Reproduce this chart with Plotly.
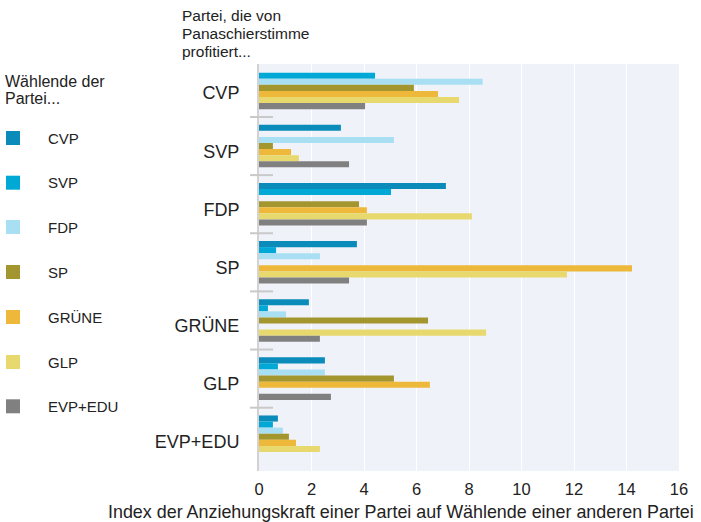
import plotly.graph_objects as go

# Recipient parties (y categories)
categories = ["CVP", "SVP", "FDP", "SP", "GRÜNE", "GLP", "EVP+EDU"]

# Voter parties (series)
voter_parties = ["CVP", "SVP", "FDP", "SP", "GRÜNE", "GLP", "EVP+EDU"]

cvp_voters = [None, 3.12, 7.12, 3.73, 1.90, 2.51, 0.72]
svp_voters = [4.42, None, 5.03, 0.65, 0.34, 0.72, 0.53]
fdp_voters = [8.52, 5.14, None, 2.32, 1.03, 2.51, 0.91]
sp_voters = [5.90, 0.53, 3.81, None, 6.44, 5.14, 1.14]
gruene_voters = [6.82, 1.22, 4.11, 14.21, None, 6.51, 1.41]
glp_voters = [7.62, 1.52, 8.11, 11.73, 8.65, None, 2.32]
evp_voters = [4.04, 3.43, 4.11, 3.43, 2.32, 2.74, None]

series_values = [cvp_voters, svp_voters, fdp_voters, sp_voters,
                 gruene_voters, glp_voters, evp_voters]

x_ticks = [0, 2, 4, 6, 8, 10, 12, 14, 16]

colors = ["#0a8bba", "#00a8d6", "#a9dff2", "#a4962e", "#eeb93b", "#e8d96f", "#808080"]

FONT = "Liberation Sans, Arial, sans-serif"
TXT = "#222222"

# plot area in pixels
L, R, T, B = 259, 22, 64, 51
W, H = 701, 522
PW, PH = W - L - R, H - T - B


def px(x):
    return (x - L) / PW


def py(y):
    return (H - B - y) / PH


fig = go.Figure()

bar_w = 0.1046
off0 = -0.455
for i, (name, vals, col) in enumerate(zip(voter_parties, series_values, colors)):
    fig.add_trace(go.Bar(
        name=name, y=categories, x=vals, orientation="h",
        marker=dict(color=col, line=dict(width=0)),
        width=bar_w, offset=off0 + i * bar_w,
        showlegend=False,
        hovertemplate=name + " → %{y}: %{x}<extra></extra>",
    ))

shapes = []
annotations = []

# separators between category groups
for k in range(len(categories) - 1):
    yv = k + 0.5 - 0.089
    shapes.append(dict(type="line", xref="paper", yref="y",
                       x0=px(250), x1=px(273), y0=yv, y1=yv,
                       line=dict(color="#c9c9c9", width=2), layer="above"))

# manual legend
leg_centers = [138, 182.7, 227, 272, 317, 362, 406.3]
for name, col, cy in zip(voter_parties, colors, leg_centers):
    shapes.append(dict(type="rect", xref="paper", yref="paper",
                       x0=px(6), x1=px(20), y0=py(cy + 7), y1=py(cy - 7),
                       fillcolor=col, line=dict(width=0)))
    annotations.append(dict(text=name, xref="paper", yref="paper",
                            x=px(46), y=py(cy), xanchor="left", yanchor="middle",
                            showarrow=False, font=dict(size=15, color=TXT, family=FONT)))

# legend title
for txt, cy in [("Wählende der", 81.5), ("Partei...", 98.5)]:
    annotations.append(dict(text=txt, xref="paper", yref="paper",
                            x=px(3), y=py(cy), xanchor="left", yanchor="middle",
                            showarrow=False, font=dict(size=16, color=TXT, family=FONT)))

# y-axis heading
for txt, cy in [("Partei, die von", 15.2), ("Panaschierstimme", 33.5), ("profitiert...", 51.8)]:
    annotations.append(dict(text=txt, xref="paper", yref="paper",
                            x=px(180), y=py(cy), xanchor="left", yanchor="middle",
                            showarrow=False, font=dict(size=15.5, color=TXT, family=FONT)))

# x-axis title
annotations.append(dict(text="Index der Anziehungskraft einer Partei auf Wählende einer anderen Partei",
                        xref="paper", yref="paper", x=px(401), y=py(512),
                        xanchor="center", yanchor="middle", showarrow=False,
                        font=dict(size=17.9, color=TXT, family=FONT)))

fig.update_layout(
    width=W, height=H,
    margin=dict(l=L, r=R, t=T, b=B, pad=0),
    paper_bgcolor="white",
    plot_bgcolor="#eff2f8",
    barmode="overlay",
    showlegend=False,
    font=dict(family=FONT, color=TXT),
    shapes=shapes,
    annotations=annotations,
    xaxis=dict(range=[0, 16], tickvals=x_ticks, ticktext=[str(v) for v in x_ticks],
               showgrid=True, gridcolor="white", gridwidth=1.2,
               zeroline=False, showline=False, ticks="",
               ticklabelstandoff=6,
               tickfont=dict(size=16.5, color=TXT, family=FONT), fixedrange=True),
    yaxis=dict(type="category", categoryorder="array", categoryarray=categories,
               range=[6.5, -0.5], showgrid=False, zeroline=False,
               showline=True, linecolor="#d2d2d2", linewidth=2, layer="above traces",
               ticks="", ticklabelstandoff=14,
               tickfont=dict(size=18, color=TXT, family=FONT), fixedrange=True),
)

fig.write_html("out.html", config={"displayModeBar": False},
               post_script="document.body.style.margin='0';document.body.style.padding='0';")
